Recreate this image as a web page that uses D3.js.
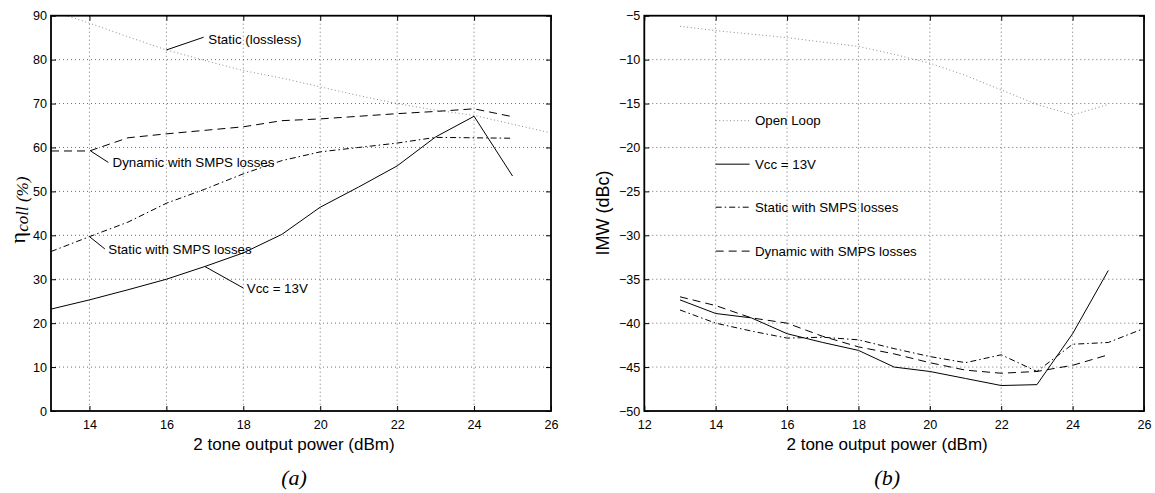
<!DOCTYPE html>
<html>
<head>
<meta charset="utf-8">
<script src="https://cdn.jsdelivr.net/npm/d3@7/dist/d3.min.js"></script>
<style>
  html, body { margin: 0; padding: 0; background: #fff; }
  svg { display: block; }
  text { font-family: "Liberation Sans", Arial, Helvetica, sans-serif; fill: #000; }
</style>
</head>
<body>
<svg id="chart" width="1155" height="493"></svg>
<script>
// ---------------- DATA ----------------
// Panel (a): collector efficiency (%)
const xA = [13, 14, 15, 16, 17, 18, 19, 20, 21, 22, 23, 24, 25];
const xA_lossless = [13, 14, 15, 16, 17, 18, 19, 20, 21, 22, 23, 24, 25, 26];
const staticLossless = [91.2, 88.3, 85.2, 82.2, 79.8, 77.5, 75.8, 73.8, 71.8, 70.0, 68.5, 67.3, 65.3, 63.3];
const dynamicSMPS_A  = [59.2, 59.2, 62.2, 63.1, 63.9, 64.7, 66.1, 66.5, 67.1, 67.7, 68.2, 68.8, 67.0];
const staticSMPS_A   = [36.3, 39.7, 43.0, 47.3, 50.5, 54.0, 57.0, 59.0, 60.0, 61.0, 62.3, 62.2, 62.1];
const vcc13_A        = [23.2, 25.3, 27.6, 30.0, 32.9, 36.0, 40.2, 46.4, 51.0, 55.8, 62.4, 67.1, 53.5];
const ticksA_x = [14, 16, 18, 20, 22, 24, 26];
const ticksA_y = [0, 10, 20, 30, 40, 50, 60, 70, 80, 90];

// Panel (b): IMW (dBc)
const xB = [13, 14, 15, 16, 17, 18, 19, 20, 21, 22, 23, 24, 25];
const xB_static = [13, 14, 15, 16, 17, 18, 19, 20, 21, 22, 23, 24, 25, 26];
const openLoop     = [-6.2, -6.7, -7.1, -7.5, -8.0, -8.5, -9.4, -10.4, -11.8, -13.45, -15.1, -16.3, -15.1];
const vcc13_B      = [-37.35, -38.9, -39.4, -41.2, -42.2, -43.1, -45.0, -45.5, -46.3, -47.1, -47.0, -41.2, -34.0];
const staticSMPS_B = [-38.5, -40.0, -40.9, -41.7, -41.6, -41.9, -42.9, -43.8, -44.5, -43.6, -45.5, -42.4, -42.2, -40.6];
const dynamicSMPS_B= [-37.0, -38.0, -39.4, -40.0, -41.5, -42.7, -43.5, -44.5, -45.35, -45.7, -45.5, -44.8, -43.6];
const ticksB_x = [12, 14, 16, 18, 20, 22, 24, 26];
const ticksB_y = [-50, -45, -40, -35, -30, -25, -20, -15, -10, -5];

const xLabel = "2 tone output power (dBm)";
const legendB = ["Open Loop", "Vcc = 13V", "Static with SMPS losses", "Dynamic with SMPS losses"];

// ---------------- STYLES ----------------
const STY = {
  dotted:  { stroke: "#8a8a8a", dash: "1,2.6", width: 1 },
  solid:   { stroke: "#000", dash: null, width: 1 },
  dashed:  { stroke: "#000", dash: "8,5", width: 1 },
  dashdot: { stroke: "#000", dash: "6,3,1.5,3", width: 1 }
};

const svg = d3.select("#chart");
svg.append("rect").attr("width", 1155).attr("height", 493).attr("fill", "#fff");

function drawPanel(cfg) {
  const { left, right, top, bottom, xDomain, yDomain, xTicks, yTicks, id } = cfg;
  const x = d3.scaleLinear().domain(xDomain).range([left, right]);
  const y = d3.scaleLinear().domain(yDomain).range([bottom, top]);
  const g = svg.append("g");

  g.append("clipPath").attr("id", "clip" + id)
    .append("rect").attr("x", left).attr("y", top)
    .attr("width", right - left).attr("height", bottom - top);

  // grid
  const grid = g.append("g").attr("stroke", "#707070").attr("stroke-width", 1)
    .attr("stroke-dasharray", "1,3");
  xTicks.filter(t => t > xDomain[0] && t < xDomain[1]).forEach(t => {
    grid.append("line").attr("x1", x(t)).attr("x2", x(t)).attr("y1", top).attr("y2", bottom);
  });
  yTicks.filter(t => t > yDomain[0] && t < yDomain[1]).forEach(t => {
    grid.append("line").attr("x1", left).attr("x2", right).attr("y1", y(t)).attr("y2", y(t));
  });

  // axes via d3 axis (ticks inward)
  const fmt = d3.format("d");
  const axB = d3.axisBottom(x).tickValues(xTicks).tickSizeInner(-5).tickSizeOuter(0).tickPadding(9).tickFormat(fmt);
  const axL = d3.axisLeft(y).tickValues(yTicks).tickSizeInner(-5).tickSizeOuter(0).tickPadding(9).tickFormat(fmt);
  const axT = d3.axisTop(x).tickValues(xTicks).tickSizeInner(-5).tickSizeOuter(0).tickFormat("");
  const axR = d3.axisRight(y).tickValues(yTicks).tickSizeInner(-5).tickSizeOuter(0).tickFormat("");

  function styleAxis(sel) {
    sel.select(".domain").remove();
    sel.selectAll(".tick line").attr("stroke", "#000").attr("stroke-width", 1);
    sel.selectAll("text").style("font-family", '"Liberation Sans", Arial, sans-serif')
      .style("font-size", "12.6px").attr("fill", "#000");
  }
  g.append("g").attr("transform", `translate(0,${bottom})`).call(axB).call(styleAxis);
  g.append("g").attr("transform", `translate(${left},0)`).call(axL).call(styleAxis)
    .selectAll("text").attr("x", -4).attr("dy", "0.32em");
  g.append("g").attr("transform", `translate(0,${top})`).call(axT).call(styleAxis);
  g.append("g").attr("transform", `translate(${right},0)`).call(axR).call(styleAxis);

  // series
  const plot = g.append("g").attr("clip-path", `url(#clip${id})`);
  cfg.series.forEach(s => {
    const pts = s.x.map((xv, i) => [xv, s.y[i]]);
    const line = d3.line().x(d => x(d[0])).y(d => y(d[1]));
    const st = STY[s.style];
    plot.append("path").attr("d", line(pts)).attr("fill", "none")
      .attr("stroke", st.stroke).attr("stroke-width", st.width)
      .attr("stroke-dasharray", st.dash);
  });

  // box
  g.append("rect").attr("x", left).attr("y", top).attr("width", right - left)
    .attr("height", bottom - top).attr("fill", "none").attr("stroke", "#000").attr("stroke-width", 1.8);

  // x label
  const cx = (left + right) / 2 - 7;
  g.append("text").attr("x", cx).attr("y", 450).attr("text-anchor", "middle")
    .style("font-size", "17px").text(xLabel);
  g.append("text").attr("x", cx).attr("y", 485).attr("text-anchor", "middle")
    .style("font-family", '"Liberation Serif", "Times New Roman", serif')
    .style("font-style", "italic").style("font-size", "22px").text(cfg.caption);

  return { x, y, g };
}

// ---------------- PANEL A ----------------
const A = drawPanel({
  id: "A", left: 51, right: 551, top: 15.7, bottom: 411,
  xDomain: [13, 26], yDomain: [0, 90], xTicks: ticksA_x, yTicks: ticksA_y, caption: "(a)",
  series: [
    { x: xA_lossless, y: staticLossless, style: "dotted" },
    { x: xA, y: dynamicSMPS_A, style: "dashed" },
    { x: xA, y: staticSMPS_A, style: "dashdot" },
    { x: xA, y: vcc13_A, style: "solid" }
  ]
});

// annotations (data coordinates)
const annA = [
  { text: "Static (lossless)",        from: [16.0, 82.2], to: [16.97, 85.1], at: [17.09, 84.7] },
  { text: "Dynamic with SMPS losses", from: [14.03, 59.2], to: [14.49, 56.6], at: [14.6, 56.6] },
  { text: "Static with SMPS losses",  from: [14.0, 39.7], to: [14.4, 36.9], at: [14.49, 36.9] },
  { text: "Vcc = 13V",                from: [17.0, 32.9], to: [18.0, 28.0], at: [18.09, 28.0] }
];
annA.forEach(a => {
  A.g.append("line").attr("x1", A.x(a.from[0])).attr("y1", A.y(a.from[1]))
    .attr("x2", A.x(a.to[0])).attr("y2", A.y(a.to[1])).attr("stroke", "#000").attr("stroke-width", 1);
  A.g.append("text").attr("x", A.x(a.at[0])).attr("y", A.y(a.at[1])).attr("dy", "0.35em")
    .style("font-size", "13.3px").text(a.text);
});

// y label A: eta_coll (%)
const yl = A.g.append("text").attr("transform", "translate(25,210) rotate(-90)")
  .attr("text-anchor", "middle");
yl.append("tspan").style("font-family", '"Liberation Serif", "DejaVu Serif", serif')
  .style("font-size", "22px").text("η");
yl.append("tspan").attr("dy", 3).style("font-family", '"Liberation Serif", "Times New Roman", serif')
  .style("font-style", "italic").style("font-size", "17px").text("coll (%)");

// ---------------- PANEL B ----------------
const B = drawPanel({
  id: "B", left: 644.3, right: 1144, top: 15.7, bottom: 411,
  xDomain: [12, 26], yDomain: [-50, -5], xTicks: ticksB_x, yTicks: ticksB_y, caption: "(b)",
  series: [
    { x: xB, y: openLoop, style: "dotted" },
    { x: xB, y: vcc13_B, style: "solid" },
    { x: xB_static, y: staticSMPS_B, style: "dashdot" },
    { x: xB, y: dynamicSMPS_B, style: "dashed" }
  ]
});

B.g.append("text").attr("transform", "translate(609,213) rotate(-90)")
  .attr("text-anchor", "middle").style("font-size", "18px").text("IMW (dBc)");

// legend (panel B), placed in data coordinates
const legStyles = ["dotted", "solid", "dashdot", "dashed"];
const legY = [-16.95, -21.9, -26.8, -31.8];
legendB.forEach((t, i) => {
  const st = STY[legStyles[i]];
  B.g.append("line").attr("x1", B.x(14)).attr("x2", B.x(14.95))
    .attr("y1", B.y(legY[i])).attr("y2", B.y(legY[i]))
    .attr("stroke", st.stroke).attr("stroke-width", st.width).attr("stroke-dasharray", st.dash);
  B.g.append("text").attr("x", B.x(15.1)).attr("y", B.y(legY[i])).attr("dy", "0.35em")
    .style("font-size", "13.3px").text(t);
});
</script>
</body>
</html>
